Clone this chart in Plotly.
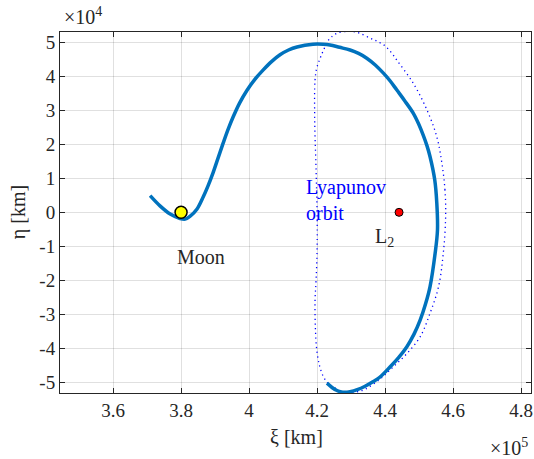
import plotly.graph_objects as go

# Transfer trajectory (xi in 1e5 km, eta in 1e4 km)
traj_xi = [3.709, 3.738, 3.768, 3.797, 3.812, 3.826, 3.847, 3.865, 3.879, 3.894, 3.909,
           3.924, 3.938, 3.953, 3.972, 3.994, 4.017, 4.041, 4.066, 4.091, 4.116, 4.141,
           4.188, 4.218, 4.238, 4.266, 4.297, 4.322, 4.346, 4.371, 4.395, 4.415, 4.434,
           4.459, 4.483, 4.499, 4.512, 4.523, 4.532, 4.546, 4.552, 4.554, 4.547, 4.532,
           4.519, 4.503, 4.485, 4.464, 4.439, 4.415, 4.385, 4.364, 4.341, 4.318, 4.297,
           4.282, 4.268, 4.257, 4.247, 4.229]
traj_eta = [0.49, 0.19, -0.05, -0.18, -0.20, -0.12, 0.10, 0.45, 0.77, 1.16, 1.60,
            2.04, 2.43, 2.80, 3.21, 3.59, 3.91, 4.18, 4.43, 4.63, 4.77, 4.86,
            4.94, 4.94, 4.92, 4.85, 4.77, 4.67, 4.53, 4.33, 4.09, 3.86, 3.60,
            3.26, 2.91, 2.59, 2.27, 1.96, 1.64, 0.95, 0.27, -0.52, -1.21, -2.19,
            -2.69, -3.17, -3.58, -3.95, -4.28, -4.54, -4.84, -4.98, -5.11, -5.21, -5.27,
            -5.29, -5.27, -5.23, -5.17, -5.02]

# Lyapunov orbit (dotted)
lyap_xi = [4.578, 4.576, 4.567, 4.552, 4.523, 4.483, 4.434, 4.418, 4.40, 4.378, 4.356,
           4.326, 4.307, 4.278, 4.258, 4.245, 4.234, 4.219, 4.209, 4.199, 4.194, 4.193,
           4.197, 4.200, 4.200, 4.197, 4.194, 4.195, 4.199, 4.207, 4.219, 4.232, 4.248,
           4.266, 4.287, 4.314, 4.341, 4.385, 4.424, 4.464, 4.503, 4.532, 4.557, 4.571,
           4.578]
lyap_eta = [-0.13, 0.66, 1.44, 2.22, 3.01, 3.79, 4.48, 4.70, 4.89, 5.02, 5.12,
            5.26, 5.31, 5.31, 5.26, 5.18, 5.07, 4.77, 4.53, 4.24, 3.89, 2.71,
            1.24, 0.0, -1.1, -2.0, -2.58, -3.4, -4.04, -4.5, -4.84, -5.02, -5.13,
            -5.25, -5.31, -5.28, -5.20, -4.90, -4.54, -4.15, -3.66, -2.97, -2.19, -1.21,
            -0.13]

moon = (3.8, 0.0)
l2 = (4.441, 0.0)

x_ticks = [3.6, 3.8, 4.0, 4.2, 4.4, 4.6, 4.8]
x_ticktext = ["3.6", "3.8", "4", "4.2", "4.4", "4.6", "4.8"]
y_ticks = [-5, -4, -3, -2, -1, 0, 1, 2, 3, 4, 5]
y_ticktext = ["-5", "-4", "-3", "-2", "-1", "0", "1", "2", "3", "4", "5"]

XS, YS = 1e5, 1e4
FONT = "Liberation Serif"

fig = go.Figure()
fig.add_trace(go.Scatter(x=[v * XS for v in lyap_xi], y=[v * YS for v in lyap_eta],
                         mode="lines",
                         line=dict(color="blue", width=1.3, dash="1.2px,3.5px", shape="spline", smoothing=1),
                         showlegend=False, hoverinfo="skip"))
fig.add_trace(go.Scatter(x=[v * XS for v in traj_xi], y=[v * YS for v in traj_eta],
                         mode="lines", line=dict(color="#0072BD", width=3.5, shape="spline", smoothing=1),
                         showlegend=False, hoverinfo="skip"))
fig.add_trace(go.Scatter(x=[moon[0] * XS], y=[moon[1] * YS], mode="markers",
                         marker=dict(color="yellow", size=12, line=dict(color="black", width=1.5)),
                         showlegend=False, hoverinfo="skip"))
fig.add_trace(go.Scatter(x=[l2[0] * XS], y=[l2[1] * YS], mode="markers",
                         marker=dict(color="red", size=8, line=dict(color="black", width=1)),
                         showlegend=False, hoverinfo="skip"))

axis_common = dict(showgrid=True, gridcolor="rgba(0,0,0,0.12)", gridwidth=1,
                   showline=True, linecolor="rgb(38,38,38)", linewidth=1, mirror="allticks",
                   ticks="inside", ticklen=5, tickcolor="rgb(38,38,38)", zeroline=False,
                   tickfont=dict(family=FONT, size=19, color="rgb(38,38,38)"))

fig.update_xaxes(range=[3.444e5, 4.829e5], tickvals=[v * XS for v in x_ticks],
                 ticktext=x_ticktext, **axis_common)
fig.update_yaxes(range=[-5.31e4, 5.30e4], tickvals=[v * YS for v in y_ticks],
                 ticktext=y_ticktext, **axis_common)

txt = dict(family=FONT, size=20, color="rgb(38,38,38)")
annotations = [
    dict(x=3.782e5, y=-1.32e4, text="Moon", showarrow=False, xanchor="left", yanchor="middle", font=txt),
    dict(x=4.162e5, y=0.36e4, text="Lyapunov<br>orbit", showarrow=False, xanchor="left",
         yanchor="middle", align="left", font=dict(family=FONT, size=20, color="blue")),
    dict(x=4.365e5, y=-0.75e4, text="L<sub>2</sub>", showarrow=False, xanchor="left", yanchor="middle", font=txt),
    dict(xref="paper", yref="paper", x=0.503, y=-0.122, text="ξ [km]", showarrow=False,
         xanchor="center", yanchor="middle", font=txt),
    dict(xref="paper", yref="paper", x=-0.089, y=0.501, text="η [km]", showarrow=False,
         xanchor="center", yanchor="middle", textangle=-90, font=txt),
    dict(xref="paper", yref="paper", x=0.004, y=1.005, text="×10<sup>4</sup>", showarrow=False,
         xanchor="left", yanchor="bottom", font=txt),
    dict(xref="paper", yref="paper", x=0.998, y=-0.112, text="×10<sup>5</sup>", showarrow=False,
         xanchor="right", yanchor="top", font=txt),
]

fig.update_layout(width=534, height=459, margin=dict(l=60, r=3, t=32, b=66, autoexpand=False),
                  plot_bgcolor="white", paper_bgcolor="white", annotations=annotations,
                  font=dict(family=FONT))

fig.write_html("out.html")
